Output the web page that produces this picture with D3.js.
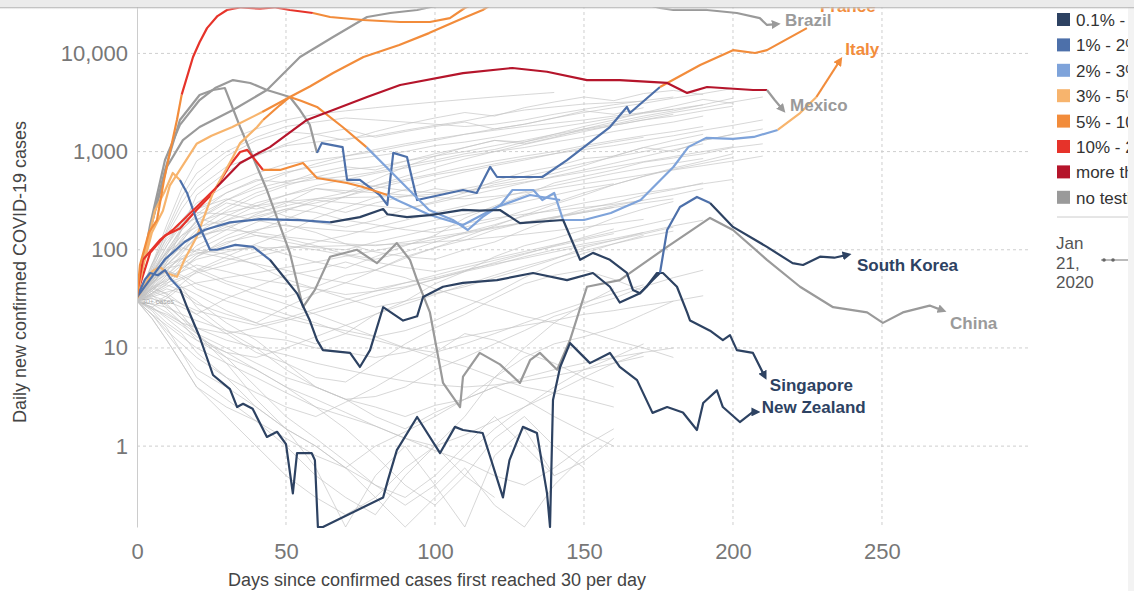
<!DOCTYPE html>
<html>
<head>
<meta charset="utf-8">
<script src="https://cdn.jsdelivr.net/npm/d3@7"></script>
<style>
  html, body { margin: 0; padding: 0; background: #fff; }
  svg { display: block; font-family: "Liberation Sans", Arial, sans-serif; }
</style>
</head>
<body>
<div id="chart"></div>
<script>
// testing positivity bands (legend)
const bandKeys = ['a', 'b', 'c', 'd', 'e', 'f', 'g', 'n'];
const bandLabels = ['0.1% - 1%', '1% - 2%', '2% - 3%', '3% - 5%', '5% - 10%', '10% - 20%', 'more than 20%', 'no testing data'];
const bandColors = ['#2d4262', '#4d70aa', '#7ea3da', '#f7b46d', '#f28c3b', '#e6332a', '#b5152b', '#9a9a9a'];

const yTicks = [1, 10, 100, 1000, 10000];
const xTicks = [0, 50, 100, 150, 200, 250];
const dateLabel = ['Jan', '21,', '2020'];

// all the other countries, sampled every few days (null = series ended)
const bgDays = [0, 5, 10, 15, 20, 30, 40, 50, 60, 70, 80, 90, 100, 110, 120, 130, 140, 150, 160, 170, 180, 190, 200, 210];
const bgSeries = [
  [30, 60, 140, 260, 420, 700, 900, 1200, 1500, 1300, 1600, 1900, 2200, 2500, 2300, 2800, 3200, 3600, 3300, 3900, 4200, 3800, null, null],
  [31, 45, 90, 160, 230, 380, 520, 480, 610, 700, 650, 800, 950, 1100, 1300, 1250, 1500, 1800, 2100, 2500, 2900, 3400, 3100, null],
  [30, 50, 80, 120, 200, 300, 260, 310, 280, 240, 300, 350, 420, 380, 500, 620, 700, 850, 900, 1100, 1000, 1300, 1500, 1700],
  [32, 70, 150, 300, 500, 900, 1300, 1600, 1500, 1700, 1400, 1600, 1800, 2000, 1700, 1900, 2200, 2600, 2400, 2800, null, null, null, null],
  [30, 38, 55, 80, 110, 160, 230, 300, 420, 380, 520, 700, 900, 1100, 1300, 1200, 1400, 1700, 2000, 2300, 2600, 3000, 3500, null],
  [33, 55, 95, 170, 260, 330, 280, 220, 190, 170, 200, 260, 310, 380, 460, 520, 600, 720, 900, 1100, 1300, 1500, null, null],
  [30, 42, 48, 65, 80, 95, 110, 90, 75, 65, 85, 110, 140, 210, 280, 360, 480, 560, 650, 780, 860, 950, 1100, 1200],
  [30, 36, 45, 60, 85, 130, 160, 180, 150, 115, 95, 85, 80, 100, 120, 160, 210, 260, 300, 360, 410, 480, null, null],
  [30, 48, 70, 82, 65, 48, 40, 33, 42, 55, 62, 85, 105, 125, 160, 190, 210, 240, 270, null, null, null, null, null],
  [30, 26, 32, 42, 35, 24, 18, 14, 11, 14, 22, 30, 45, 60, 85, 110, 130, 160, 210, 260, 310, null, null, null],
  [30, 40, 36, 28, 22, 14, 9, 7, 5, 4.5, 7, 11, 16, 22, 32, 45, 55, 62, 50, 38, null, null, null, null],
  [30, 22, 15, 11, 8, 5, 3.5, 2.5, 2, 2.8, 4, 6, 9, 14, 12, 9, 7, 5, 4, null, null, null, null, null],
  [30, 36, 44, 38, 30, 18, 12, 7, 4, 3, 2, 1.5, 2.2, 3, 5, 8, 11, 13, 16, 22, 30, null, null, null],
  [30, 25, 18, 14, 9, 5, 2.5, 1.5, 1, 0.6, 0.4, 0.3, 0.5, 1, 2, 1, 0.5, 0.7, 1.2, null, null, null, null, null],
  [30, 46, 62, 85, 100, 90, 70, 50, 40, 32, 26, 30, 36, 42, 52, 64, 80, 105, 125, 150, null, null, null, null],
  [30, 65, 120, 190, 240, 230, 200, 175, 165, 155, 150, 170, 200, 230, 270, 310, 360, 420, 470, null, null, null, null, null],
  [30, 28, 26, 22, 19, 15, 13, 12, 10, 9, 8, 9, 11, 13, 15, 17, 19, 22, 24, 27, 30, 34, null, null],
  [30, 52, 85, 125, 180, 270, 380, 470, 520, 560, 620, 720, 820, 950, 1050, 1250, 1450, 1650, 1850, 2100, 2300, 2600, 2900, null],
  [30, 42, 62, 52, 40, 30, 24, 20, 17, 15, 13, 15, 19, 26, 36, 52, 72, 92, 115, 140, null, null, null, null],
  [30, 20, 12, 7, 4, 2.5, 1.8, 1.2, 0.8, 0.6, 1, 1.4, 2, 3, 4, 3, 2, 1.4, 1, null, null, null, null, null],
  [30, 34, 30, 26, 22, 32, 42, 55, 62, 75, 62, 52, 40, 32, 26, 21, 18, 15, 12, 10, 8, null, null, null],
  [30, 72, 130, 180, 210, 175, 140, 120, 105, 100, 120, 140, 165, 185, 210, 230, 250, 270, 290, 320, 360, 420, null, null],
  [30, 40, 46, 52, 62, 85, 115, 150, 210, 270, 340, 410, 520, 620, 720, 820, 950, 1050, 1150, 1300, 1450, 1650, 1850, 2100],
  [30, 24, 16, 9, 5, 3, 1.8, 1, 0.5, 0.3, 0.2, 0.5, 1, 2, 5, 10, 18, 28, 40, null, null, null, null, null],
  [30, 46, 56, 42, 26, 15, 10, 6, 4, 3, 3.2, 4, 6, 8, 11, 15, 21, 26, 32, 42, 52, 62, null, null],
  [30, 55, 82, 105, 95, 82, 72, 62, 52, 46, 40, 46, 52, 62, 72, 82, 95, 110, 125, 145, 170, null, null, null],
  [30, 34, 40, 36, 28, 22, 18, 26, 36, 46, 62, 82, 105, 135, 175, 225, 290, 360, 460, 560, 660, 760, 870, null],
  [30, 20, 12, 7, 4, 2, 1, 0.5, 0.3, 0.2, 0.3, 0.6, 1, 0.5, 0.3, null, null, null, null, null, null, null, null, null],
  [30, 28, 23, 18, 14, 10, 7, 5, 4, 3, 2.5, 2, 2.6, 3, 4, 5, 6, 7, 8, 9, 10, null, null, null],
  [30, 42, 75, 160, 360, 620, 920, 1150, 1250, 1350, 1450, 1650, 1850, 2050, 2350, 2650, 2850, 3050, 3150, 3250, null, null, null, null],
  [30, 60, 110, 200, 300, 450, 600, 750, 820, 900, 1000, 1150, 1300, 1500, 1700, 1900, 2200, 2500, 2800, 3100, 3500, 3900, 4400, null],
  [30, 35, 25, 18, 12, 8, 6, 4, 2.5, 1.5, 0.8, 0.4, 0.25, 0.5, 1.2, 2, 1, 0.6, null, null, null, null, null, null],
  [30, 50, 90, 140, 170, 200, 240, 280, 330, 380, 450, 520, 600, 700, 800, 900, 1000, 1150, 1300, 1450, 1600, 1800, null, null],
  [30, 38, 52, 70, 90, 120, 140, 130, 110, 90, 80, 95, 120, 150, 180, 220, 260, 300, 340, 380, 420, 470, 520, null],
  [30, 26, 20, 15, 12, 9, 8, 10, 13, 17, 22, 28, 35, 44, 55, 68, 82, 98, 115, 135, 155, null, null, null],
  [30, 45, 70, 100, 150, 220, 300, 360, 420, 400, 380, 360, 340, 330, 350, 380, 420, 470, 520, 580, 650, 720, 800, 900],
  [30, 32, 28, 20, 14, 8, 4, 2, 1.2, 0.7, 0.4, 0.25, 0.4, 0.8, 1.5, 2.5, 4, 6, 8, 11, null, null, null, null],
  [30, 55, 100, 160, 220, 320, 420, 500, 560, 500, 440, 400, 380, 420, 480, 560, 650, 760, 880, 1000, 1150, 1300, 1500, null],
  [30, 40, 50, 60, 70, 60, 50, 45, 40, 35, 38, 42, 50, 60, 70, 85, 100, 115, 130, 150, 175, 200, null, null],
  [30, 22, 17, 13, 10, 7, 5, 3.5, 2.5, 2, 1.6, 1.2, 0.9, 0.7, 0.5, 0.4, 0.6, 1, 1.5, null, null, null, null, null],
  [30, 48, 75, 110, 160, 250, 350, 450, 550, 650, 700, 800, 900, 1000, 1150, 1300, 1500, 1700, 1900, 2200, 2500, 2800, 3200, 3600],
  [30, 40, 60, 90, 140, 200, 280, 360, 450, 520, 600, 680, 780, 900, 1000, 1100, 1250, 1400, 1600, 1800, 2000, 2300, null, null],
  [30, 65, 160, 350, 600, 1000, 1400, 1800, 2000, 2200, 2100, 2000, 1900, 1800, 1900, 2100, 2400, 2700, 3000, 3300, 3600, null, null, null],
  [30, 50, 70, 100, 130, 180, 220, 260, 240, 200, 180, 160, 150, 170, 200, 250, 300, 380, 460, 560, 680, 800, 950, null],
  [30, 55, 110, 180, 260, 380, 500, 620, 700, 820, 900, 1000, 1150, 1250, 1400, 1600, 1750, 1950, 2200, 2450, 2700, 3000, null, null],
  [30, 44, 70, 95, 130, 170, 210, 260, 300, 350, 420, 500, 580, 650, 750, 850, 950, 1100, 1250, 1400, null, null, null, null],
  [30, 35, 42, 50, 58, 70, 85, 100, 120, 140, 170, 200, 240, 280, 330, 390, 450, 520, 600, 680, 760, 850, null, null],
  [30, 60, 95, 120, 140, 160, 150, 135, 125, 115, 110, 120, 135, 150, 170, 190, 215, 240, 270, 300, 330, null, null, null],
  [30, 38, 33, 28, 24, 20, 17, 20, 25, 31, 38, 46, 55, 66, 78, 92, 108, 126, 146, null, null, null, null, null],
  [30, 26, 21, 17, 13, 9, 6, 4, 3, 2.2, 1.6, 1.2, 1, 1.3, 1.8, 2.5, 3.5, 5, 7, 9, null, null, null, null],
  [30, 42, 35, 22, 14, 7, 3, 1.5, 0.6, 0.15, 0.5, 1, 0.4, 0.15, 0.8, 1.5, 0.5, null, null, null, null, null, null, null],
  [30, 50, 60, 55, 45, 35, 28, 22, 18, 14, 12, 10, 9, 11, 14, 18, 23, 29, 36, 44, null, null, null, null],
  [30, 47, 80, 130, 200, 320, 450, 600, 750, 900, 1050, 1200, 1350, 1500, 1650, 1800, 1950, 2100, 2300, 2500, 2700, null, null, null],
  [30, 33, 37, 41, 46, 52, 58, 66, 75, 86, 98, 112, 128, 146, 166, 190, 216, 246, 280, 320, null, null, null, null],
  [30, 40, 55, 75, 100, 140, 190, 250, 320, 300, 280, 260, 300, 350, 410, 480, 560, 650, 760, 890, 1040, 1200, null, null],
  [30, 28, 34, 45, 60, 78, 95, 110, 100, 88, 75, 66, 60, 70, 82, 96, 112, 130, 152, 178, 208, null, null, null],
  [30, 25, 22, 18, 16, 14, 16, 19, 23, 28, 34, 41, 50, 61, 74, 90, 110, 134, 163, null, null, null, null, null],
  [30, 45, 65, 70, 60, 45, 35, 28, 22, 17, 13, 10, 8, 6.5, 5, 4, 3.5, 3, 2.5, null, null, null, null, null],
  [30, 70, 180, 420, 800, 1300, 1700, 2100, 2400, 2600, 2800, 3000, 3200, 3400, 3600, 3800, 4000, null, null, null, null, null, null, null],
  [30, 36, 48, 64, 85, 115, 155, 205, 270, 350, 450, 560, 690, 840, 1000, 1180, 1380, 1600, 1850, 2100, 2400, null, null, null],
  [30, 22, 14, 9, 6, 4, 2.5, 1.5, 1, 0.6, 0.3, 0.15, 0.3, 0.6, 0.25, 0.15, 0.4, 0.8, null, null, null, null, null, null],
  [30, 48, 66, 80, 92, 100, 104, 106, 108, 110, 112, 115, 120, 126, 134, 144, 156, 170, 186, 204, null, null, null, null],
  [30, 32, 27, 20, 16, 12, 10, 8.5, 7, 6, 5.2, 4.6, 4.2, 4, 4.2, 4.6, 5.2, 6, 7, 8.2, null, null, null, null],
  [30, 58, 95, 140, 190, 240, 280, 310, 330, 340, 345, 350, 370, 400, 440, 490, 550, 620, 700, 790, 890, 1000, 1120, null]
];

// highlighted countries: [day, daily cases]; bands = [from day, positivity band]
const usCases = [[0, 32], [1, 70], [4, 150], [6.7, 200], [9, 500], [11, 970], [13.4, 2100], [15, 3800], [18.8, 9190], [21, 13000], [23.5, 18100], [27, 24000], [30.2, 27700], [35, 29500], [41.3, 28500], [46, 29500], [51.3, 27700], [59, 25800], [64.8, 23500], [75.8, 21900], [88.3, 20900], [98.3, 20900], [105, 22900], [110, 29000], [115, 34000], [120, 40000]];
const usBands = [[0, 'e'], [15, 'f'], [59, 'e']];

const indiaCases = [[0, 33], [2, 67], [5, 150], [8.7, 250], [11, 450], [14.4, 650], [20, 1200], [25, 1450], [32, 1780], [42, 2530], [51.3, 3600], [58, 4600], [65.8, 6310], [76, 9190], [88, 12200], [98, 16100], [108, 21900], [116, 27700], [122, 36000]];
const indiaBands = [[0, 'd'], [35, 'e']];

const italyCases = [[0, 32], [3, 45], [5, 60], [7.7, 67], [10, 58], [13.4, 53], [16, 80], [20, 135], [25.5, 379], [32.2, 880], [34.6, 1220], [40.3, 1780], [42.3, 2100], [48, 2980], [51.3, 3600], [55, 3300], [60.4, 2850], [69, 1780], [77, 1110], [87, 551], [98, 254], [106, 201], [111, 159], [116, 216], [122, 286], [126, 406], [133, 406], [136, 321], [140, 379], [143, 201], [150, 201], [159, 237], [169, 321], [180, 697], [185, 1110], [191, 1380], [200, 1350], [207, 1410], [215, 1660], [222.5, 2470], [228, 3600], [236, 8570]];
const italyBands = [[0, 'd'], [42, 'e'], [77, 'c'], [215, 'd'], [224, 'e']];

const franceCases = [[0, 33], [4.4, 179], [9.4, 820], [14.4, 1870], [21, 3350], [26.2, 4440], [32.2, 5350], [38, 5000], [43.6, 4240], [51.3, 3600], [54.7, 2650], [58, 1870], [60.4, 970], [62, 1220], [69, 1110], [70.5, 514], [74.8, 514], [81.5, 361], [84, 286], [86, 970], [90.6, 880], [94, 321], [101.7, 361], [109.4, 406], [114, 379], [118.5, 697], [120.8, 551], [132, 551], [136, 551], [144.3, 820], [158.7, 1780], [164.4, 2850], [165.4, 2470], [175.5, 4550], [189, 7620], [200, 10800], [207.4, 10100], [211.4, 10800], [224.8, 18100]];
const franceBands = [[0, 'n'], [60.4, 'b'], [175.5, 'e']];

const mexicoCases = [[0, 36], [2, 79], [7.7, 126], [12, 159], [20, 273], [26.8, 436], [34.6, 765], [44.6, 1110], [57, 2100], [65.8, 2650], [77.2, 3600], [88.3, 4770], [109.4, 6310], [126, 7100], [137.6, 6500], [151, 5350], [162, 5350], [177.9, 5000], [184.6, 3960], [191.3, 4550], [206.7, 4240], [211.4, 4240], [214, 3350], [216.8, 2650]];
const mexicoBands = [[0, 'f'], [26, 'g'], [211.4, 'n']];

const redLineCases = [[0, 35], [4.4, 93], [9.4, 140], [14.4, 165], [20, 254], [25.5, 379], [31.2, 730], [34.6, 990], [37, 1040], [42.3, 650], [48, 650], [55.7, 765], [60.4, 538], [70.5, 479], [75.8, 436], [84, 361], [87.2, 321], [98.3, 226], [109.4, 179], [120.8, 273], [131.9, 361], [142, 321]];
const redLineBands = [[0, 'f'], [40, 'e'], [84, 'c']];

const brazilCases = [[0, 33], [4.4, 159], [10, 697], [15.4, 1310], [21, 1780], [32.2, 2650], [43.6, 4240], [54.7, 9190], [65.8, 14700], [77.2, 23500], [85, 25800], [94, 27700], [101.7, 31100], [115, 38000], [130, 44000], [145, 42000], [160, 38000], [175.5, 29000], [180, 27700], [191.3, 27700], [201.3, 25800], [209, 22900], [211.4, 19500], [214.8, 19900]];
const brazilBands = [[0, 'n']];

const chinaCases = [[0, 39], [4.4, 159], [9.4, 650], [14.4, 2100], [21, 3770], [25.5, 4240], [29.5, 4440], [34.6, 1780], [43.6, 406], [51.3, 93], [55.7, 26], [59.7, 39], [64.8, 85], [73.8, 100], [80.5, 73], [87.2, 117], [91.6, 79], [94, 49], [98.3, 23], [102.7, 4.4], [108.4, 2.5], [109.4, 5.1], [115, 8.9], [121.8, 6.8], [128.5, 4.4], [131.9, 7.5], [135.2, 8.9], [141, 6.0], [145.3, 12], [151, 42], [162, 49], [177.9, 107], [192.3, 211], [200, 159], [211.4, 79], [222.5, 42], [233.6, 26], [245, 23], [250.3, 18], [257, 23], [266, 27], [270.5, 24]];
const chinaBands = [[0, 'n']];

const koreaCases = [[0, 33], [2.7, 90], [6, 250], [9.4, 400], [12, 606], [14.4, 514], [16.8, 379], [20, 201], [24.5, 100], [26.8, 100], [33, 112], [39, 107], [44.6, 79], [53.7, 36], [58, 19], [60.4, 12], [62.4, 9.5], [71.5, 8.9], [74.8, 6.4], [78.2, 9.5], [82.6, 26], [89.3, 19], [94, 21], [96, 33], [102.7, 42], [109.4, 46], [120.8, 49], [132.9, 58], [144.3, 49], [153, 58], [158.7, 42], [162, 29], [168.8, 36], [173, 49], [175.5, 58], [177.9, 159], [182.2, 273], [187.9, 345], [192.3, 299], [200, 171], [211.4, 107], [220, 73], [223.5, 70], [229.2, 85], [234, 83], [238.6, 89]];
const koreaBands = [[0, 'd'], [13, 'b'], [44, 'a'], [175, 'b'], [190, 'a']];

const singaporeCases = [[0, 33], [4.4, 50], [9.4, 80], [16, 120], [22.8, 160], [31.2, 190], [41.3, 205], [54.7, 200], [64.8, 190], [74.8, 215], [82.6, 260], [84, 230], [90.6, 215], [98.3, 225], [109.4, 255], [115, 250], [121.8, 254], [128.5, 187], [143, 201], [148.7, 79], [153, 93], [158.7, 79], [164.4, 58], [166.4, 39], [168.8, 36], [171, 42], [174.5, 58], [176.5, 58], [181.2, 42], [184.6, 23], [185.6, 19], [192.3, 15], [196.6, 12], [199, 13.5], [201.3, 9.5], [206.7, 8.9], [210.7, 5.1]];
const singaporeBands = [[0, 'b'], [60, 'a']];

const nzCases = [[0, 33], [2.7, 50], [4.4, 58], [7, 55], [9.4, 62], [11.4, 50], [14.4, 40], [16.8, 26], [21, 13], [25.5, 5.3], [31.2, 3.8], [33.6, 2.5], [35.6, 2.7], [38.8, 2.4], [43.6, 1.24], [47, 1.4], [50, 1.05], [52.3, 0.33], [53.7, 0.85], [58.6, 0.85], [59.7, 0.72], [60.7, 0.15], [62.4, 0.15], [82.6, 0.3], [84.2, 0.45], [87.2, 0.91], [94, 1.98], [101.7, 0.85], [106.7, 1.57], [109.4, 1.46], [116, 1.36], [122.8, 0.3], [125, 0.72], [129.5, 1.57], [134.2, 1.36], [137.6, 0.33], [138.6, 0.15], [139.6, 2.95], [142, 6.4], [145.3, 11.2], [152, 7.0], [158.7, 8.9], [162, 6.4], [167.8, 4.7], [173, 2.18], [177.9, 2.5], [183.2, 2.2], [187.9, 1.46], [190, 2.75], [194.6, 3.7], [196.6, 2.5], [202.3, 1.76], [206.7, 2.23], [208, 2.23]];
const nzBands = [[0, 'b'], [12, 'a']];

const countries = [
  { name: 'China', cases: chinaCases, bands: chinaBands, arrow: true },
  { name: 'Brazil', cases: brazilCases, bands: brazilBands, arrow: true },
  { name: 'France', cases: franceCases, bands: franceBands, arrow: false },
  { name: '', cases: redLineCases, bands: redLineBands, arrow: false },
  { name: 'Italy', cases: italyCases, bands: italyBands, arrow: true },
  { name: '', cases: indiaCases, bands: indiaBands, arrow: false },
  { name: 'Singapore', cases: singaporeCases, bands: singaporeBands, arrow: true },
  { name: 'South Korea', cases: koreaCases, bands: koreaBands, arrow: true },
  { name: 'New Zealand', cases: nzCases, bands: nzBands, arrow: true },
  { name: 'Mexico', cases: mexicoCases, bands: mexicoBands, arrow: true },
  { name: '', cases: usCases, bands: usBands, arrow: false }
];

// label nudges (px) from the end of each line
const labelOffsets = {
  'South Korea': [9, 16], 'China': [7, 18], 'Singapore': [5, 14], 'New Zealand': [5, 1],
  'Italy': [5, -5], 'Mexico': [7, 1], 'Brazil': [8, 2], 'France': [13, -16]
};

const width = 1134, height = 591;
const bandColor = d3.scaleOrdinal().domain(bandKeys).range(bandColors);

const svg = d3.select('#chart').append('svg')
  .attr('width', width)
  .attr('height', height);

const x = d3.scaleLinear().domain([0, 299]).range([137, 1028]);
const y = d3.scaleLog().domain([0.15, 35000]).range([527, 0]);

const defs = svg.append('defs');
defs.append('clipPath').attr('id', 'plotclip')
  .append('rect').attr('x', 137).attr('y', 0).attr('width', 893).attr('height', 528);

// markers for the line ends
bandKeys.forEach(k => {
  defs.append('marker')
    .attr('id', 'arrow-' + k)
    .attr('viewBox', '0 0 10 10')
    .attr('refX', 6).attr('refY', 5)
    .attr('markerWidth', 9).attr('markerHeight', 9)
    .attr('markerUnits', 'userSpaceOnUse')
    .attr('orient', 'auto')
    .append('path').attr('d', 'M0,0 L10,5 L0,10 z')
    .attr('fill', bandColor(k));
});

// gridlines
const grid = svg.append('g').attr('class', 'grid');
grid.selectAll('line.h').data(yTicks).join('line')
  .attr('class', 'h')
  .attr('x1', x(0)).attr('x2', x(299))
  .attr('y1', d => y(d)).attr('y2', d => y(d))
  .attr('stroke', '#cfcfcf').attr('stroke-dasharray', '3,3');
grid.selectAll('line.v').data(xTicks.filter(d => d > 0)).join('line')
  .attr('class', 'v')
  .attr('x1', d => x(d)).attr('x2', d => x(d))
  .attr('y1', 0).attr('y2', y(0.15))
  .attr('stroke', '#cfcfcf').attr('stroke-dasharray', '3,3');

const plot = svg.append('g').attr('clip-path', 'url(#plotclip)');

// background countries
const line = d3.line()
  .defined(d => d[1] != null)
  .x(d => x(d[0]))
  .y(d => y(d[1]));

plot.append('g').selectAll('path').data(bgSeries).join('path')
  .attr('d', s => line(s.map((v, i) => [bgDays[i], v])))
  .attr('fill', 'none')
  .attr('stroke', '#c4c4c4')
  .attr('stroke-width', 0.8)
  .attr('stroke-opacity', 0.85);

// split a country's line into runs of one colour
function bandAt(bands, day) {
  let k = bands[0][1];
  bands.forEach(b => { if (day >= b[0]) k = b[1]; });
  return k;
}
function runs(c) {
  const out = [];
  for (let i = 0; i < c.cases.length - 1; i++) {
    const k = bandAt(c.bands, c.cases[i][0]);
    const last = out[out.length - 1];
    if (last && last.key === k) last.pts.push(c.cases[i + 1]);
    else out.push({ key: k, pts: [c.cases[i], c.cases[i + 1]] });
  }
  return out;
}

const hl = plot.append('g');
countries.forEach(c => {
  const r = runs(c);
  hl.append('g').selectAll('path').data(r).join('path')
    .attr('d', d => line(d.pts))
    .attr('fill', 'none')
    .attr('stroke', d => bandColor(d.key))
    .attr('stroke-width', 2.2)
    .attr('stroke-linejoin', 'round')
    .attr('marker-end', (d, i) => (c.arrow && i === r.length - 1) ? 'url(#arrow-' + d.key + ')' : null);
});

// line labels
const labelled = countries.filter(c => c.name);
svg.append('g').selectAll('text').data(labelled).join('text')
  .attr('x', c => x(c.cases[c.cases.length - 1][0]) + labelOffsets[c.name][0])
  .attr('y', c => y(c.cases[c.cases.length - 1][1]) + labelOffsets[c.name][1])
  .attr('font-size', 17)
  .attr('font-weight', 'bold')
  .attr('fill', c => bandColor(bandAt(c.bands, c.cases[c.cases.length - 1][0])))
  .text(c => c.name);

svg.append('text')
  .attr('x', x(0) + 5).attr('y', y(30) + 3)
  .attr('font-size', 7).attr('fill', '#aaa')
  .text('30+ cases');

// axes
const yAxis = svg.append('g')
  .attr('transform', 'translate(' + x(0) + ',0)')
  .call(d3.axisLeft(y).tickValues(yTicks).tickFormat(d3.format(',')).tickSize(0).tickSizeOuter(0).tickPadding(9));
yAxis.select('.domain').attr('stroke', '#cccccc');
yAxis.selectAll('text').attr('font-size', 22).attr('fill', '#777').attr('font-family', '"Liberation Sans", Arial, sans-serif');

const xAxis = svg.append('g')
  .attr('transform', 'translate(0,' + y(0.15) + ')')
  .call(d3.axisBottom(x).tickValues(xTicks).tickSize(0).tickPadding(16));
xAxis.select('.domain').remove();
xAxis.selectAll('text').attr('font-size', 22).attr('fill', '#777').attr('font-family', '"Liberation Sans", Arial, sans-serif');

svg.append('text')
  .attr('x', 437).attr('y', 586)
  .attr('text-anchor', 'middle')
  .attr('font-size', 18).attr('fill', '#444')
  .text('Days since confirmed cases first reached 30 per day');

svg.append('text')
  .attr('transform', 'translate(26,272) rotate(-90)')
  .attr('text-anchor', 'middle')
  .attr('font-size', 18).attr('fill', '#444')
  .text('Daily new confirmed COVID-19 cases');

// legend (cut by the window edge, as in the source)
const legend = svg.append('g').attr('transform', 'translate(1057,20)');
const rows = legend.selectAll('g').data(bandLabels).join('g')
  .attr('transform', (d, i) => 'translate(0,' + i * 25.4 + ')');
rows.append('rect')
  .attr('x', 0).attr('y', -7).attr('width', 13).attr('height', 13)
  .attr('fill', (d, i) => bandColors[i]);
rows.append('text')
  .attr('x', 19).attr('y', 6)
  .attr('font-size', 17).attr('fill', '#333')
  .text(d => d);

svg.append('line')
  .attr('x1', 1057).attr('x2', 1134).attr('y1', 217).attr('y2', 217)
  .attr('stroke', '#ccc');

svg.append('g').selectAll('text').data(dateLabel).join('text')
  .attr('x', 1056).attr('y', (d, i) => 249 + i * 19.5)
  .attr('font-size', 17).attr('fill', '#555')
  .text(d => d);
svg.append('line').attr('x1', 1101).attr('x2', 1134).attr('y1', 260).attr('y2', 260)
  .attr('stroke', '#777').attr('stroke-width', 1);
svg.selectAll('circle.knob').data([1104, 1113]).join('circle')
  .attr('class', 'knob')
  .attr('cx', d => d).attr('cy', 260).attr('r', 1.8).attr('fill', '#666');

svg.append('rect').attr('x', 1128).attr('y', 0).attr('width', 6).attr('height', height).attr('fill', '#f3f3f3');

// top bar of the frame
const grad = defs.append('linearGradient').attr('id', 'shadow').attr('x1', 0).attr('x2', 0).attr('y1', 0).attr('y2', 1);
grad.append('stop').attr('offset', '0%').attr('stop-color', '#a9a9a9');
grad.append('stop').attr('offset', '100%').attr('stop-color', '#ffffff').attr('stop-opacity', 0);
svg.append('rect').attr('x', 0).attr('y', 0).attr('width', width).attr('height', 7).attr('fill', '#ebebeb');
svg.append('rect').attr('x', 0).attr('y', 7).attr('width', width).attr('height', 3).attr('fill', 'url(#shadow)');
</script>
</body>
</html>
